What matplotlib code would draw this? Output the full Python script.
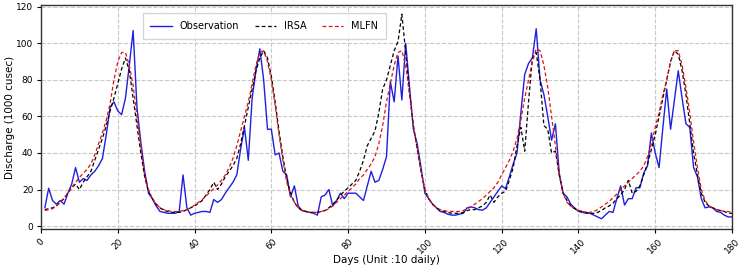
import matplotlib
matplotlib.use("Agg")
import matplotlib.pyplot as plt
import numpy as np

days = list(range(1, 181))

observation = [
    10, 20.7, 14, 12, 14, 12, 18, 23, 32, 24,
    26, 25, 28, 30, 33, 37, 50, 65, 68, 63,
    61, 70, 88, 107, 65, 46, 30, 18, 15, 11,
    8, 7.5, 7, 7, 7, 8, 28, 10, 6, 7,
    7.5, 8, 8, 7.5, 14.5, 13, 14.5, 18, 21, 24,
    28, 42, 54, 36, 70, 85, 97, 80, 53, 53,
    39, 40, 30, 28, 16, 22, 11, 8.5, 8, 7.5,
    7, 6, 16, 17, 20, 11, 14, 18, 15, 18,
    18, 18, 16, 14, 22, 30, 24, 25, 31, 38,
    79, 68, 93, 69, 100, 76, 53, 45, 32, 18,
    15, 12, 10, 8, 7.5, 6.5, 6, 6, 6.5, 7,
    10, 10.5, 10, 9, 8.7, 10, 13, 16, 19, 22,
    20.5, 27, 34, 40, 62, 83, 89, 92, 108, 80,
    72, 60, 47, 56, 29, 18, 16, 12, 10, 8,
    7.5, 7, 7, 6, 5, 4, 6, 8, 7.5, 15,
    22, 11.5, 15, 15, 21, 21, 29, 33, 51, 40,
    32, 54, 75, 53, 69, 85, 70, 56, 54, 32,
    27, 15, 10, 10.5, 10, 8, 7.5, 6, 5, 5,
]

irsa = [
    9, 9.5, 10, 11, 13, 15, 18, 21, 23, 20,
    24, 27, 30, 36, 42, 48, 55, 63, 70, 78,
    86, 92, 85, 70, 55, 40, 27, 19, 15, 12,
    10, 8.5, 8, 7.5, 7.5, 7.5, 8, 9, 10, 11,
    12.5, 14, 17, 20, 24, 20, 23, 27, 30, 33,
    37, 45, 55, 65, 75, 85, 92, 96, 92, 82,
    68, 52, 38, 26, 18, 13, 10, 8.5, 8, 7.5,
    7.5, 7.5, 8, 8.5, 10, 12, 14, 17, 19, 21,
    23, 25, 30, 36, 44, 48, 52, 62, 75, 80,
    88, 96, 101, 116, 95, 73, 55, 42, 30, 20,
    15, 12, 10, 8.5, 8, 7.5, 7, 7, 7, 7.5,
    8.5, 9, 9, 10, 11, 13, 17, 13, 16, 18,
    19, 25, 32, 44, 54, 41, 68, 92, 95, 80,
    55, 53, 40, 41, 28, 18, 14, 11, 9.5, 8.5,
    8, 7.5, 7, 7, 7.5, 8.5, 10, 11, 12.5, 15,
    17, 20, 25, 18, 19, 22, 28, 34, 42, 50,
    60, 70, 80, 90, 96, 94, 85, 72, 56, 40,
    28, 18, 13, 11, 10, 9, 8.5, 8, 7, 7,
]

mlfn = [
    8.5, 9, 9.5, 11, 13, 15.5, 18, 21, 24, 26.5,
    29, 31, 34, 39, 45, 51, 58, 67, 80, 90,
    95, 95, 88, 77, 60, 44, 28, 20, 15, 12,
    10, 9, 8.5, 8, 8, 8, 8.5, 9, 10, 11.5,
    13, 14.5, 16.5, 18.5, 20.5, 22.5, 25, 28, 32, 37,
    44, 52, 60, 68, 78, 88, 95, 96, 90, 80,
    66, 50, 36, 24, 17, 13, 10, 8.5, 8, 7.5,
    7.5, 7.5, 8, 8.5, 9.5, 11, 13, 15, 17, 19,
    21, 23, 26, 28, 31, 34, 38, 45, 55, 68,
    78, 88, 95, 96, 88, 72, 55, 42, 30, 20,
    15, 12, 10, 9, 8.5, 8, 8, 8, 8, 8.5,
    9.5, 10.5, 12, 13.5, 15, 17, 19, 21, 24, 28,
    32, 36, 41, 48, 58, 70, 80, 90, 97, 96,
    88, 76, 60, 44, 28, 18, 13, 11, 9.5, 8.5,
    8, 7.5, 7.5, 8, 9, 10.5, 12, 13.5, 15.5, 17.5,
    20, 22, 24, 26, 28, 30, 33, 38, 45, 54,
    62, 72, 80, 90, 96, 96, 88, 76, 62, 46,
    32, 20, 14, 11, 10, 9, 8.5, 8, 8, 7.5,
]

xticks = list(range(0, 181, 20))
yticks = list(range(0, 121, 20))

fig = plt.figure(figsize=(7.4, 2.71), dpi=100)
ax = fig.add_axes([41 / 740, 1 - 229 / 271, 691 / 740, 224 / 271])

ax.plot(days, observation, color="#1f1fe0", lw=1.0, label="Observation")
ax.plot(days, irsa, color="black", lw=0.9, ls=(0, (3, 2)), label="IRSA")
ax.plot(days, mlfn, color="#e01010", lw=0.9, ls=(0, (3, 2)), label="MLFN")

ax.set_xlim(0, 180)
ax.set_ylim(-1.6, 121)
ax.set_xticks(xticks)
ax.set_yticks(yticks)
ax.tick_params(axis="both", labelsize=6.5, length=3, pad=2.5)
for lab in ax.get_xticklabels():
    lab.set_rotation(45)
ax.grid(True, ls="--", color="#c8c8c8", lw=0.8)
ax.set_axisbelow(True)
ax.set_xlabel("Days (Unit :10 daily)", fontsize=7.5, labelpad=0)
ax.set_ylabel("Discharge (1000 cusec)", fontsize=7.5, labelpad=1)
for s in ax.spines.values():
    s.set_color("#333333")
    s.set_linewidth(1.0)

ax.legend(loc="upper center", bbox_to_anchor=(0.323, 0.985), ncol=3,
          fontsize=7, columnspacing=1.6, handlelength=2.2, borderpad=0.8,
          frameon=True, fancybox=False, edgecolor="#cccccc")

fig.savefig("out.png", dpi=100)
